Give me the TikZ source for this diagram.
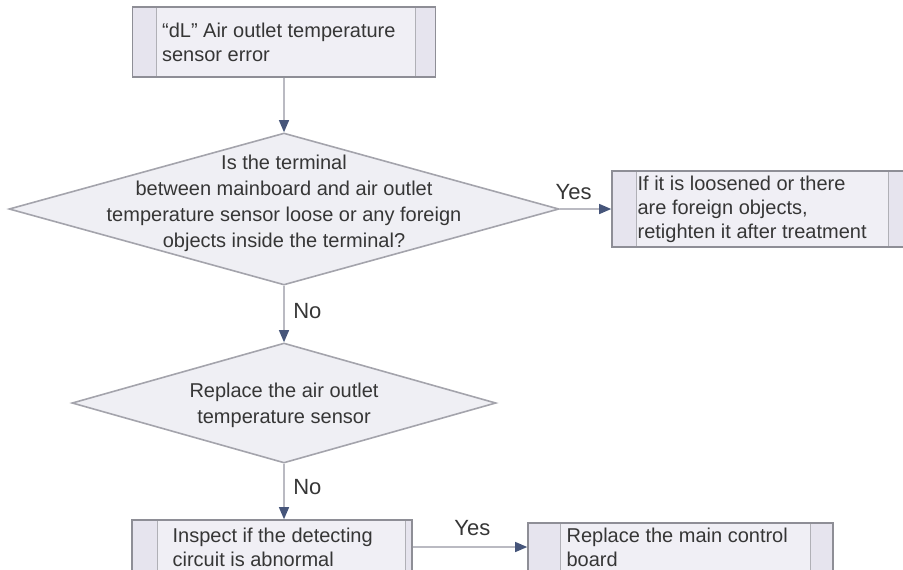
\documentclass[tikz,border=0pt]{standalone}
\usepackage{fontspec}
\setmainfont{Liberation Sans}
\usetikzlibrary{arrows.meta, positioning, shapes.geometric}
\definecolor{boxfill}{HTML}{F0EFF5}
\definecolor{boxband}{HTML}{E6E4EE}
\definecolor{boxedge}{HTML}{8E8E96}
\definecolor{diafill}{HTML}{EFEFF4}
\definecolor{diaedge}{HTML}{A4A4AC}
\definecolor{flowline}{HTML}{BABAC2}
\definecolor{tipblue}{HTML}{46557A}
\definecolor{inktext}{HTML}{363636}

\begin{document}
\begin{tikzpicture}[x=0.5pt, y=-0.5pt,
  procbox/.style 2 args={draw=boxedge, line width=0.8pt, fill=boxfill, inner sep=0pt,
    path picture={
      \fill[boxband] (path picture bounding box.north west) rectangle ([xshift=#1]path picture bounding box.south west);
      \fill[boxband] ([xshift=-#2]path picture bounding box.north east) rectangle (path picture bounding box.south east);
      \draw[boxedge!70, line width=0.5pt] ([xshift=#1]path picture bounding box.north west) -- ([xshift=#1]path picture bounding box.south west);
      \draw[boxedge!70, line width=0.5pt] ([xshift=-#2]path picture bounding box.north east) -- ([xshift=-#2]path picture bounding box.south east);
    }},
  decision/.style={diamond, draw=diaedge, line width=0.8pt, fill=diafill, inner sep=0pt},
  boxtext/.style={text=inktext, font=\fontsize{10}{12}\selectfont, align=left, inner sep=0pt, anchor=west},
  diatext/.style={text=inktext, font=\fontsize{10}{13}\selectfont, align=center, inner sep=0pt},
  flow/.style={draw=flowline, line width=0.6pt, -{Triangle[length=6pt, width=5pt, color=tipblue]}},
  lbl/.style={text=inktext, font=\fontsize{11}{13}\selectfont}]

\useasboundingbox (0,0) rectangle (903,569);
\clip (0,0) rectangle (903,569);

%% Start: error code
\node[procbox={12pt}{10pt}, minimum width=151.5pt, minimum height=35pt] (err) at (284,42) {};
\node[boxtext] (errtxt) at ([xshift=15pt]err.west) {“dL” Air outlet temperature\\sensor error};

%% First check: terminal
\node[decision, minimum width=275pt, minimum height=76pt] (terminal) at (284,209) {};
\node[diatext] (terminaltxt) at ([yshift=3pt]terminal.center) {Is the terminal\\between mainboard and air outlet\\temperature sensor loose or any foreign\\objects inside the terminal?};

% Yes branch
\node[procbox={12pt}{8pt}, minimum width=146pt, minimum height=38pt] (tighten) at (758,209) {};
\node[boxtext] (tightentxt) at ([xshift=13pt]tighten.west) {If it is loosened or there\\are foreign objects,\\retighten it after treatment};

%% Second step: sensor
\node[decision, minimum width=212pt, minimum height=60pt] (sensor) at (284,403) {};
\node[diatext] (sensortxt) at ([yshift=-1pt]sensor.center) {Replace the air outlet\\temperature sensor};

%% Third step: detecting circuit
\node[procbox={12.5pt}{3.5pt}, minimum width=140pt, minimum height=27pt] (circuit) at (272,547) {};
\node[boxtext] (circuittxt) at ([xshift=20.5pt]circuit.west) {Inspect if the detecting\\circuit is abnormal};

% Yes branch
\node[procbox={16pt}{11.5pt}, minimum width=152.5pt, minimum height=26pt] (board) at (680.5,549) {};
\node[boxtext] (boardtxt) at ([xshift=19.5pt, yshift=1pt]board.west) {Replace the main control\\board};

%% Connectors
\draw[flow] (err.south) -- (terminal.north);
\draw[flow] (terminal.east) -- node[lbl, above=1pt, pos=0.27] (yes1) {Yes} (tighten.west);
\draw[flow] (terminal.south) -- node[lbl, right=1pt, pos=0.45] (no1) {No} (sensor.north);
\draw[flow] (sensor.south) -- node[lbl, right=1pt, pos=0.42] (no2) {No} (sensor.south |- circuit.north);
\draw[flow] (circuit.east) -- node[lbl, above=2pt, pos=0.52] (yes2) {Yes} (circuit.east -| board.west);

\end{tikzpicture}
\end{document}
